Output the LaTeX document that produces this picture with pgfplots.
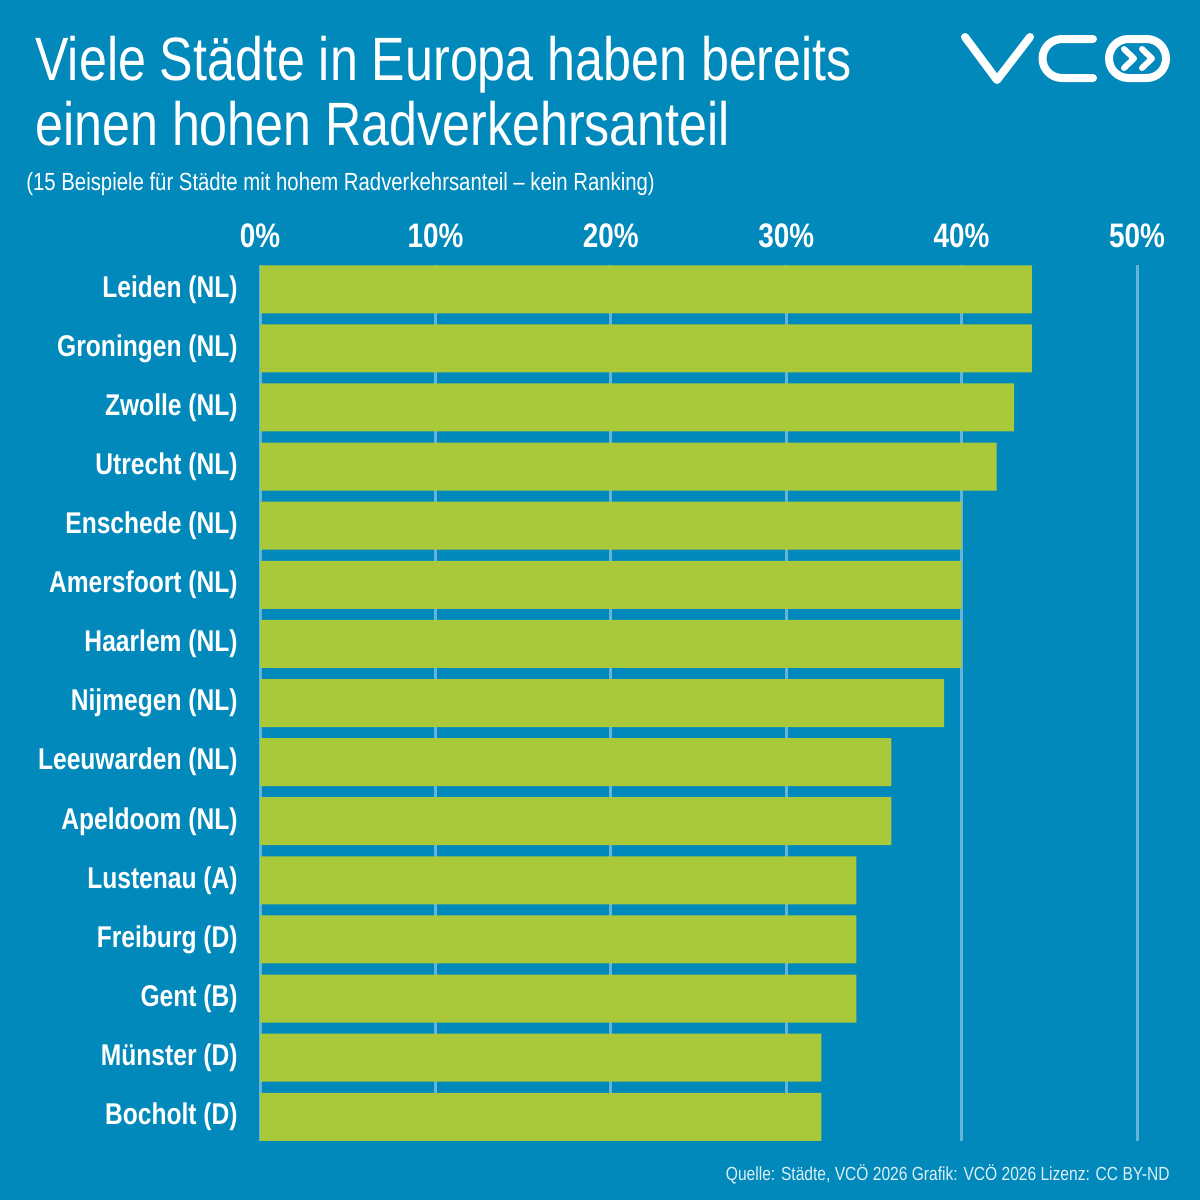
\documentclass[border=0pt]{standalone}
\usepackage{pgfplots}
\pgfplotsset{compat=1.18}
\usepackage{fontspec}
\setmainfont{Liberation Sans}[FakeStretch=0.82]
\definecolor{bg}{HTML}{0089BA}
\definecolor{barg}{HTML}{A9C93A}
\definecolor{gridc}{HTML}{62B5D8}
\definecolor{foot}{HTML}{DDF0F8}
\begin{document}
\begin{tikzpicture}
\fill[bg] (0pt,0pt) rectangle (600pt,-600pt);
% title
\node[anchor=base west, inner sep=0pt, text=white, font=\fontsize{30.6}{33}\selectfont] at (17.5pt,-40pt) {Viele Städte in Europa haben bereits};
\node[anchor=base west, inner sep=0pt, text=white, font=\fontsize{30.6}{33}\selectfont] at (17.5pt,-72.5pt) {einen hohen Radverkehrsanteil};
\node[anchor=base west, inner sep=0pt, text=white, font=\fontsize{12.4}{14}\selectfont] at (13pt,-95pt) {(15 Beispiele für Städte mit hohem Radverkehrsanteil – kein Ranking)};
\node[anchor=base east, inner sep=0pt, text=foot, font=\fontsize{9.5}{11}\selectfont] at (585pt,-590pt) {Quelle: Städte, VCÖ 2026 Grafik: VCÖ 2026 Lizenz: CC BY-ND};
% logo
\begin{scope}[white, line width=4pt, line cap=round, line join=round]
\draw (482.5pt,-18.5pt) -- (498.5pt,-40pt) -- (515pt,-18.5pt);
\draw (546.5pt,-19.5pt) -- (531pt,-19.5pt) arc[start angle=90, end angle=270, radius=9.75pt] -- (546.5pt,-39pt);
\draw[rounded corners=9.7pt] (554.5pt,-19.5pt) rectangle (583pt,-39pt);
\draw[line width=3pt] (562pt,-24.5pt) -- (567pt,-29.25pt) -- (562pt,-34pt);
\draw[line width=3pt] (571pt,-24.5pt) -- (576pt,-29.25pt) -- (571pt,-34pt);
\end{scope}
\begin{axis}[
  at={(130pt,-132.5pt)}, anchor=north west,
  width=438.5pt, height=438pt, scale only axis,
  xbar, bar width=24pt,
  xmin=0, xmax=50, ymin=0.59, ymax=15.41, y dir=reverse,
  xtick={0,10,20,30,40,50},
  xticklabels={0\%,10\%,20\%,30\%,40\%,50\%},
  xticklabel pos=upper,
  ytick={1,...,15},
  yticklabels={Leiden (NL),Groningen (NL),Zwolle (NL),Utrecht (NL),Enschede (NL),Amersfoort (NL),Haarlem (NL),Nijmegen (NL),Leeuwarden (NL),Apeldoom (NL),Lustenau (A),Freiburg (D),Gent (B),Münster (D),Bocholt (D)},
  axis line style={draw=none},
  major tick length=0pt,
  xmajorgrids,
  major grid style={color=gridc, line width=1.5pt},
  xticklabel style={anchor=base, yshift=9pt, inner sep=0pt, text=white, font=\fontsize{17}{19}\selectfont\bfseries},
  yticklabel style={anchor=east, inner sep=0pt, xshift=-11pt, text=white, font=\fontsize{15}{17}\selectfont\bfseries},
  clip=false,
]
\addplot[fill=barg, draw=none] coordinates {
(44,1) (44,2) (43,3) (42,4) (40,5) (40,6) (40,7) (39,8) (36,9) (36,10) (34,11) (34,12) (34,13) (32,14) (32,15)
};
\end{axis}
\end{tikzpicture}
\end{document}
